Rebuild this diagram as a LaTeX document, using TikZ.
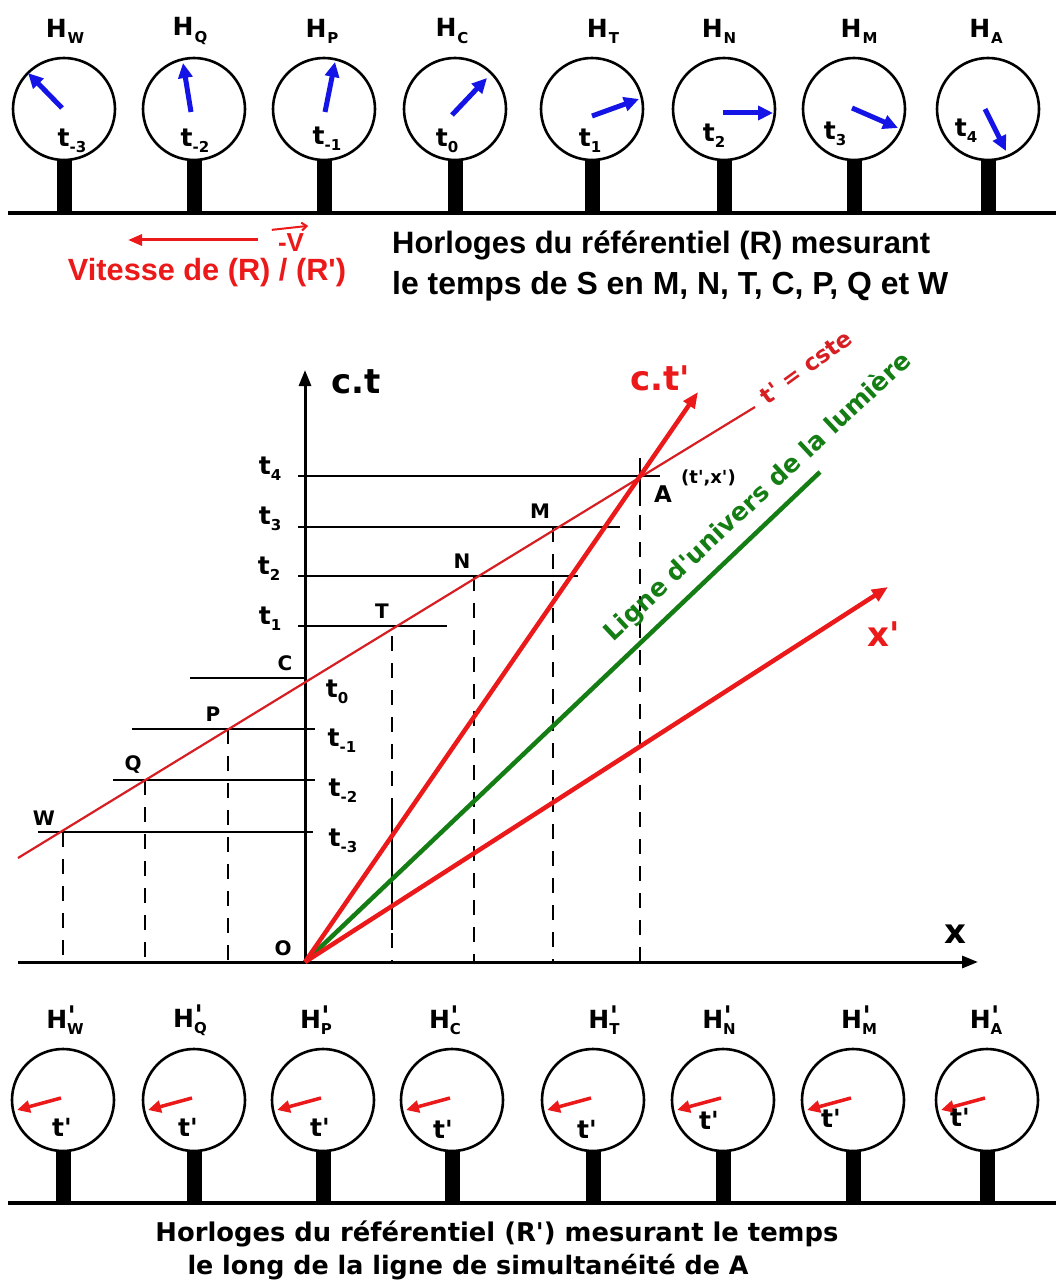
\documentclass[tikz,border=0pt]{standalone}
\usepackage{fontspec}
\setmainfont{DejaVu Sans}
\newfontfamily\djf{DejaVu Sans}
\newfontfamily\arialf{Liberation Sans}
\usetikzlibrary{arrows.meta,calc}
\definecolor{hred}{RGB}{235,25,25}
\definecolor{hblue}{RGB}{20,20,230}
\definecolor{hgreen}{RGB}{20,125,20}
\definecolor{lred}{RGB}{215,30,35}
\newcommand\tsub[1]{t\raisebox{-0.45ex}{\fontsize{15}{15}\selectfont #1}}
\newcommand\Hs[1]{H\kern1pt\raisebox{-0.45ex}{\fontsize{15}{15}\selectfont #1}}
\newcommand\Hps[1]{H\rlap{\raisebox{0.2ex}{\fontsize{27}{27}\selectfont\kern0.5pt'}}\raisebox{-0.45ex}{\fontsize{15}{15}\selectfont #1}}
\begin{document}
\begin{tikzpicture}[x=1pt,y=-1pt,
  clock/.style={circle,draw,line width=2.6pt,minimum size=102pt,inner sep=0pt,fill=white},
  bluehand/.style={hblue,line width=5pt,-{Triangle[length=15pt,width=14pt]}},
  redhand/.style={hred,line width=3.5pt,-{Triangle[length=13pt,width=12pt]}},
  tlab/.style={font=\djf\bfseries\fontsize{25}{25}\selectfont,inner sep=0pt},
  hlab/.style={font=\djf\bfseries\fontsize{25}{25}\selectfont,inner sep=0pt},
  plab/.style={font=\djf\bfseries\fontsize{20}{20}\selectfont,inner sep=0pt},
  biglab/.style={font=\djf\bfseries\fontsize{34}{34}\selectfont,inner sep=0pt},
  hline/.style={line width=2.2pt},
  vdash/.style={line width=2.2pt,dash pattern=on 15pt off 12pt},
  thick red/.style={hred,line width=4.5pt},
]
\path[use as bounding box,fill=white] (0,0) rectangle (1056,1281);

% ---------- top clocks ----------
\draw[line width=3.5pt] (8,213) -- (1056,213);
\foreach \nm/\cx/\ax/\ay/\bx/\by/\tl/\tx/\ty/\hx in {
W/64/62/108/28/73/{-3}/72/141/65,
Q/194/191/112/183/63/{-2}/195/141/190,
P/324/325/112/335/62/{-1}/327/139/322,
C/455/452/115/487/78/0/447/141/452,
T/592/592/116/639/99/1/590/141/603,
N/724/723/113/773/113/2/714/136/719,
M/854/852/108/898/128/3/835/134/859,
A/988/985/109/1006/151/4/966/131/986}
{
  \fill (\cx-7.5,150) rectangle (\cx+7.5,213);
  \node[clock] (c\nm) at (\cx,109) {};
  \draw[bluehand] (\ax,\ay) -- (\bx,\by);
  \node[tlab] (t\nm) at (\tx,\ty) {\tsub{\tl}};
  \node[hlab] (h\nm) at (\hx,31) {\Hs{\nm}};
}

% ---------- middle texts ----------
\node[hred,font=\arialf\bfseries\fontsize{26}{26}\selectfont,inner sep=0pt] (mv) at (291,243) {-V};
\coordinate (va) at (128,240);
\draw[hred,line width=3pt,-{Triangle[length=14pt,width=11pt]}] (258,240) -- (va);
\draw[hred,line width=2pt,-{Straight Barb[length=5pt,width=8pt]}] ($(mv.north west)+(-6,-4)$) -- ($(mv.north east)+(4,-8)$);
\node[hred,inner sep=0pt] (vit) at (207,273) {\resizebox{278pt}{!}{\arialf\bfseries\fontsize{30}{30}\selectfont Vitesse de (R) / (R')}};
\node[inner sep=0pt,anchor=west] (cap1) at (392,245) {\resizebox{538pt}{!}{\arialf\bfseries\fontsize{30}{30}\selectfont Horloges du référentiel (R) mesurant}};
\node[inner sep=0pt,anchor=west] (cap2) at (392,286) {\resizebox{556pt}{!}{\arialf\bfseries\fontsize{30}{30}\selectfont le temps de S en M, N, T, C, P, Q et W}};

% ---------- space-time diagram ----------
\coordinate (O) at (305,962);
\coordinate (W) at (63,832);
\coordinate (Q) at (145,780);
\coordinate (P) at (228,729);
\coordinate (C) at (305,678);
\coordinate (T) at (392,626);
\coordinate (N) at (474,576);
\coordinate (M) at (553,527);
\coordinate (A) at (640,476);
\coordinate (ctend) at (305,370);
\coordinate (xend) at (978,962);
\coordinate (xstart) at (18,962);

% horizontal level lines
\draw[hline] (298,476) -- (660,476);
\draw[hline] (298,527) -- (620,527);
\draw[hline] (298,576) -- (578,576);
\draw[hline] (298,626) -- (447,626);
\draw[hline] (190,678) -- (C);
\draw[hline] (132,729) -- (315,729);
\draw[hline] (113,780) -- (315,780);
\draw[hline] (38,832) -- (313,832);

% verticals
\draw[vdash] (W) -- (W|-O);
\draw[vdash] (Q) -- (Q|-O);
\draw[vdash] (P) -- (P|-O);
\draw[vdash,dash phase=-10pt] (T) -- (T|-O);
\draw[hline] (392,813) -- (392,930);
\draw[vdash] (N) -- (N|-O);
\draw[vdash] (M) -- (M|-O);
\draw[hline] (640,458) -- (640,506);
\draw[vdash] (640,515) -- (A|-O);

% axes
\draw[line width=3pt,-{Triangle[length=16pt,width=12pt]}] (O) -- (ctend);
\draw[line width=3pt,-{Triangle[length=16pt,width=12pt]}] (xstart) -- (xend);

% t' = cste line
\draw[lred,line width=2.2pt] (18,858) -- (755,407);

% world lines
\draw[hgreen,line width=4.5pt] (O) -- (820,472);
\draw[thick red,-{Triangle[length=16pt,width=13pt]}] (O) -- (698,392);
\draw[thick red,-{Triangle[length=16pt,width=13pt]}] (O) -- (888,587);

% axis labels
\node[biglab] (lct) at (356,382) {c.t};
\node[biglab,hred] (lctp) at (660,378) {c.t'};
\node[biglab] (lx) at (955,934) {x};
\node[biglab,hred] (lxp) at (884,634) {x'};
\node[plab] (lO) at (283,948) {O};

% level labels
\node[tlab] at (270,469) {\tsub{4}};
\node[tlab] at (270,519) {\tsub{3}};
\node[tlab] at (269,569) {\tsub{2}};
\node[tlab] at (270,619) {\tsub{1}};
\node[tlab] at (337,692) {\tsub{0}};
\node[tlab] at (342,741) {\tsub{-1}};
\node[tlab] at (343,791) {\tsub{-2}};
\node[tlab] at (343,841) {\tsub{-3}};

% point labels
\node[plab] at (44,818) {W};
\node[plab] at (133,765) {Q};
\node[plab] at (213,714) {P};
\node[plab] at (285,663) {C};
\node[plab] at (382,611) {T};
\node[plab] at (462,561) {N};
\node[plab] at (540,511) {M};
\node[font=\djf\bfseries\fontsize{23}{23}\selectfont,inner sep=0pt,anchor=west] (lA) at (654,494) {A};
\node[font=\djf\bfseries\fontsize{18}{18}\selectfont,inner sep=0pt,anchor=west] at (681,478) {(t',x')};

% rotated labels
\node[lred,font=\djf\bfseries\fontsize{23}{23}\selectfont,inner sep=0pt,rotate=36] at (806,367) {t' = cste};
\node[hgreen,font=\djf\bfseries\fontsize{25}{25}\selectfont,inner sep=0pt,rotate=43] at (758,497) {Ligne d'univers de la lumière};

% ---------- bottom clocks ----------
\draw[line width=3.5pt] (8,1203) -- (1056,1203);
\foreach \nm/\cx/\tx/\ty/\hx in {
W/63/62/1127/65,
Q/194/188/1127/190,
P/323/320/1127/316,
C/452/443/1129/445,
T/593/587/1129/604,
N/723/709/1120/719,
M/853/831/1118/859,
A/987/960/1117/986}
{
  \fill (\cx-7.5,1140) rectangle (\cx+7.5,1203);
  \node[clock] (d\nm) at (\cx,1100) {};
  \draw[redhand] (\cx-2,1098) -- (\cx-46,1110);
  \node[tlab] (u\nm) at (\tx,\ty) {t'};
  \node[hlab] (g\nm) at (\hx,1020) {\Hps{\nm}};
}
\node[inner sep=0pt] (cap3) at (497,1234) {\resizebox{683pt}{!}{\djf\bfseries\fontsize{22}{22}\selectfont Horloges du référentiel (R') mesurant le temps}};
\node[inner sep=0pt] (cap4) at (468,1267) {\resizebox{561pt}{!}{\djf\bfseries\fontsize{22}{22}\selectfont le long de la ligne de simultanéité de A}};
\end{tikzpicture}
\end{document}
